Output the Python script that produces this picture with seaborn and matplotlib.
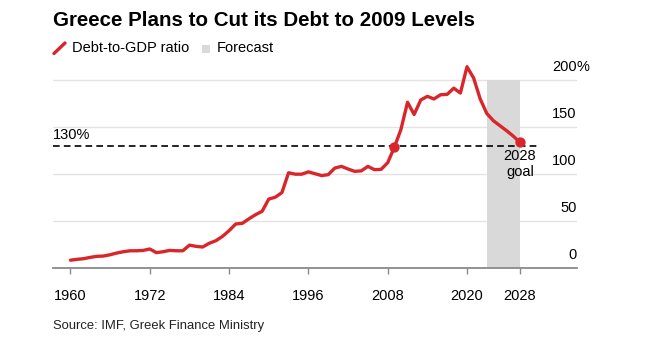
# Greece debt-to-GDP chart, recreated with seaborn

import numpy as np
import pandas as pd
import seaborn as sns
import matplotlib.pyplot as plt
from matplotlib.lines import Line2D
from matplotlib.patches import Rectangle

# --------------------------------------------
# data
# --------------------------------------------

years = list(range(1960, 2029))

debt = [
    8, 8.9, 9.6, 11, 12.1, 12.4, 13.8, 15.6, 17, 18,          # 1960-69
    18, 18.4, 19.9, 16, 17, 18.4, 18, 18, 24, 22.7,           # 1970-79
    22, 26, 28.7, 33.3, 39.4, 46.5, 47.2, 52, 56.4, 60,       # 1980-89
    73, 75, 80, 101, 99.5, 99.5, 102, 100, 98, 99,            # 1990-99
    106, 107.8, 105, 102.5, 103, 107.8, 104.3, 104.6, 111.7, 128,  # 2000-09
    147, 176, 163, 178.4, 182.3, 179.5, 184, 184.4, 191, 185.8,    # 2010-19
    213.8, 201.8, 179.5, 164, 156.3, 151, 145.7, 140, 133.4,  # 2020-28
]

xtick_years = [1960, 1972, 1984, 1996, 2008, 2020, 2028]
ytick_values = [0, 50, 100, 150, 200]
ytick_labels = ["0", "50", "100", "150", "200"]

forecast_start = 2023
forecast_end = 2028
goal_level = 130
marked_years = [2009, 2028]

title = "Greece Plans to Cut its Debt to 2009 Levels"
source = "Source: IMF, Greek Finance Ministry"

df = pd.DataFrame({"year": years, "debt": debt})
dots = df[df["year"].isin(marked_years)]

# --------------------------------------------
# style
# --------------------------------------------

sns.set_theme(style="white")
plt.rcParams["font.family"] = ["Liberation Sans", "DejaVu Sans"]

RED = "#d8262a"
GREY_FILL = "#d9d9d9"
GRID = "#e3e3e3"
AXIS = "#8a8a8a"

W, H = 647, 350
fig = plt.figure(figsize=(W / 100, H / 100), dpi=100)
ax = fig.add_axes([53.3 / W, 82.3 / H, 523.4 / W, 206.8 / H])

# forecast band
ax.fill_between([forecast_start, forecast_end], 0, 200, color=GREY_FILL, lw=0, zorder=1)

# 130% dashed line
ax.plot([1957.4, 2030.7], [goal_level, goal_level], color="black", lw=1.2,
        ls=(0, (4, 2.5)), zorder=2)

sns.lineplot(data=df, x="year", y="debt", color=RED, linewidth=2.4, ax=ax, zorder=3)
sns.scatterplot(data=dots, x="year", y="debt", color=RED, s=55, edgecolor=RED,
                linewidth=0, ax=ax, zorder=4)

ax.set_xlim(1957.4, 2036.6)
ax.set_ylim(0, 220)
ax.set_xlabel("")
ax.set_ylabel("")

# grid + axes
ax.set_yticks(ytick_values)
ax.yaxis.grid(True, color=GRID, lw=1)
ax.set_axisbelow(True)
ax.tick_params(axis="y", length=0, labelleft=False, labelright=False)
for s in ["top", "right", "left"]:
    ax.spines[s].set_visible(False)
ax.spines["bottom"].set_color(AXIS)
ax.spines["bottom"].set_linewidth(1.3)

ax.set_xticks(xtick_years)
ax.set_xticklabels([str(y) for y in xtick_years])
ax.tick_params(axis="x", bottom=True, length=4.3, width=1, color=AXIS,
               pad=11, labelsize=10.5, labelcolor="black")

# right-hand value labels
ytrans = ax.get_yaxis_transform()
for v, lab in zip(ytick_values, ytick_labels):
    ax.text(1.0, v + 14, lab, transform=ytrans, ha="right", va="center",
            fontsize=10.5, color="black")
ax.text(1.0, 200 + 14, "%", transform=ytrans, ha="left", va="center",
        fontsize=10.5, color="black")

# annotations
ax.text(0.0, goal_level + 11, "130%", transform=ytrans, ha="left", va="center",
        fontsize=10.5, color="black")
ax.text(2028, 110.5, "2028\ngoal", ha="center", va="center", fontsize=10.5,
        color="black", linespacing=1.17, zorder=5)

# title, legend, source
fig.text(53 / W, 1 - 20 / H, title, fontsize=14.8, fontweight="bold",
         ha="left", va="center", color="black")

fig.add_artist(Line2D([54 / W, 65 / W], [1 - 53.5 / H, 1 - 43 / H],
                      transform=fig.transFigure, color=RED, lw=2.4))
fig.text(71.5 / W, 1 - 48 / H, "Debt-to-GDP ratio", fontsize=10.5,
         ha="left", va="center", color="black")
fig.add_artist(Rectangle((201.5 / W, 1 - 52.7 / H), 8 / W, 8 / H,
                         transform=fig.transFigure, color=GREY_FILL, lw=0))
fig.text(217 / W, 1 - 48 / H, "Forecast", fontsize=10.5,
         ha="left", va="center", color="black")

fig.text(53 / W, 1 - 325.5 / H, source, fontsize=9.4,
         family=["Liberation Sans Narrow", "Liberation Sans"],
         ha="left", va="center", color="#222222")

fig.savefig("out.png", dpi=100)
